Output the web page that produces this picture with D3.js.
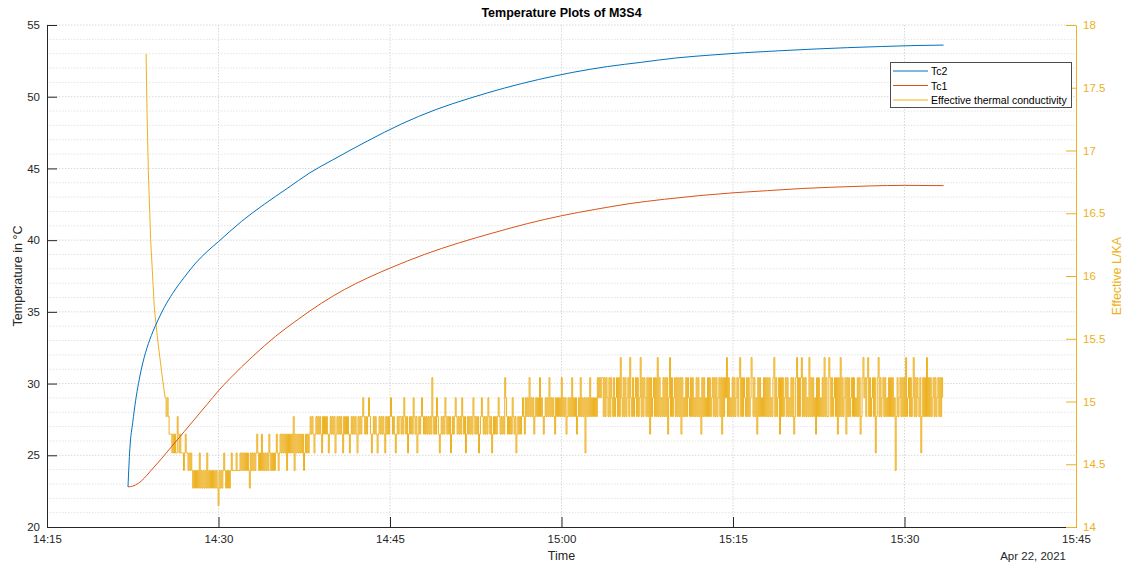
<!DOCTYPE html>
<html>
<head>
<meta charset="utf-8">
<script src="https://cdn.jsdelivr.net/npm/d3@7"></script>
<style>
body { margin: 0; background: #fff; }
svg { font-family: "Liberation Sans", Arial, sans-serif; }
</style>
</head>
<body>
<div id="chart"></div>
<script>
// Tc2 (blue)
const tc2Times = ["14:22:05","14:22:15","14:22:30","14:22:45","14:23:00","14:23:15","14:23:45","14:24:15","14:24:45","14:25:15",
  "14:26:00","14:27:00","14:28:00","14:29:00","14:30:00","14:32:00","14:34:00","14:36:00","14:38:00","14:40:00",
  "14:43:00","14:46:00","14:49:00","14:52:00","14:55:00","14:58:00","15:01:00","15:04:00","15:07:00","15:10:00",
  "15:13:00","15:16:00","15:19:00","15:22:00","15:25:00","15:28:00","15:31:00","15:33:25"];
const tc2Values = [22.8,25.5,27.3,28.8,30.0,31.0,32.5,33.6,34.5,35.3,
  36.3,37.4,38.4,39.2,39.9,41.3,42.5,43.6,44.7,45.6,
  46.9,48.1,49.1,49.9,50.6,51.2,51.7,52.1,52.4,52.7,
  52.9,53.07,53.2,53.32,53.42,53.5,53.57,53.6];

// Tc1 (orange)
const tc1Times = ["14:22:05","14:22:30","14:23:00","14:23:30","14:24:00","14:25:00","14:26:00","14:27:00","14:28:00","14:29:00",
  "14:30:00","14:31:00","14:33:00","14:35:00","14:37:00","14:39:00","14:41:00","14:43:00","14:45:00","14:48:00",
  "14:51:00","14:54:00","14:57:00","15:00:00","15:03:00","15:06:00","15:09:00","15:12:00","15:15:00","15:18:00",
  "15:21:00","15:24:00","15:27:00","15:30:00","15:33:25"];
const tc1Values = [22.8,22.85,23.05,23.4,23.85,24.75,25.7,26.65,27.6,28.55,
  29.5,30.35,31.9,33.3,34.5,35.6,36.55,37.35,38.05,39.0,
  39.8,40.5,41.15,41.7,42.15,42.55,42.85,43.1,43.3,43.45,
  43.6,43.7,43.78,43.82,43.8];

// Effective L/KA (yellow): initial drop, then quantised readings
const kDropTimes = ["14:23:40","14:23:45","14:23:52","14:24:04","14:24:23","14:24:41","14:25:02"];
const kDropValues = [17.77,17.3,16.82,16.29,15.75,15.49,15.23];
const kLevels = [14.17,14.31,14.45,14.59,14.74,14.88,15.03,15.19,15.35];
const kSegStarts = ["14:25:20","14:25:46","14:27:15","14:31:17","14:31:53","14:35:23","14:38:01","14:45:53","14:56:50","15:03:08","15:03:39","15:33:25"];
const kSegCodes = [
  "65654",
  "4434343354343332343",
  "3232321212121312121213121212121210212123212121232",
  "2223222",
  "3232323232132323234323242323232432323234323",
  "43434342434343524343434342343434",
  "5454345454543545454345454534545454354545434545454354545654545654345454345454543545456545434545",
  "54546545345454654534545654545454547545465434545465454534545654545465453454545465454534565454546545345454565454547654545465453454545654",
  "6565756564565657565456565756565465656575656456565756564565756563656575656565",
  "767677",
  "5757657576575675758657575675865756757568575765757475675758575657575746857567575757475657576575756575756475756575756757575675747576857565757567578575765757568757564757565757575756578575674757567575657574578575785757565857575647575657585755875756757475857567475756757565757457867578575675735785756757565757575625756757575856757568575765735757585757567575675757" + "6"
];

const leftTicks = [20,25,30,35,40,45,50,55];
const rightTicks = [14,14.5,15,15.5,16,16.5,17,17.5,18];
const timeTicks = ["14:15:00","14:30:00","14:45:00","15:00:00","15:15:00","15:30:00","15:45:00"];

const W = 1128, H = 567;
const pL = 47, pR = 1076, pT = 25, pB = 527;
const parse = d3.timeParse("%H:%M:%S");
const blue = "#0072BD", orange = "#D95319", yellow = "#EDB120", ink = "#262626";

const svg = d3.select("#chart").append("svg").attr("width", W).attr("height", H);

const x = d3.scaleTime().domain([parse("14:15:00"), parse("15:45:00")]).range([pL, pR]);
const yL = d3.scaleLinear().domain([20, 55]).range([pB, pT]);
const yR = d3.scaleLinear().domain([14, 18]).range([pB, pT]);

// grid
const minor = d3.range(20, 56, 1).filter(v => v % 5 !== 0);
svg.append("g").selectAll("line").data(minor).enter().append("line")
  .attr("x1", pL).attr("x2", pR).attr("y1", d => yL(d)).attr("y2", d => yL(d))
  .attr("stroke", "#e4e4e4").attr("stroke-dasharray", "1.5,1.5");
svg.append("g").selectAll("line").data(leftTicks.slice(1)).enter().append("line")
  .attr("x1", pL).attr("x2", pR).attr("y1", d => yL(d)).attr("y2", d => yL(d))
  .attr("stroke", "#d8d8d8").attr("stroke-dasharray", "1.5,1.5");
svg.append("g").selectAll("line").data(timeTicks.slice(1, -1).map(parse)).enter().append("line")
  .attr("x1", d => x(d)).attr("x2", d => x(d)).attr("y1", pT).attr("y2", pB)
  .attr("stroke", "#d8d8d8").attr("stroke-dasharray", "1.5,1.5");

// yellow series
const kDrop = kDropTimes.map((t, i) => ({t: parse(t), v: kDropValues[i]}));
const kBand = [];
kSegCodes.forEach((codes, i) => {
  const t0 = +parse(kSegStarts[i]), t1 = +parse(kSegStarts[i + 1]);
  for (let j = 0; j < codes.length; j++) {
    kBand.push({t: new Date(t0 + (t1 - t0) * j / codes.length), v: kLevels[+codes[j]]});
  }
});
kDrop.push(kBand[0]);

const lineR = d3.line().x(d => x(d.t)).y(d => yR(d.v));
svg.append("path").datum(kDrop).attr("d", lineR)
  .attr("fill", "none").attr("stroke", yellow).attr("stroke-width", 1);
svg.append("path").datum(kBand).attr("d", lineR.curve(d3.curveStepAfter))
  .attr("fill", "none").attr("stroke", yellow).attr("stroke-width", 1);

const lineL = d3.line().x(d => x(d.t)).y(d => yL(d.v)).curve(d3.curveMonotoneX);
const tc1 = tc1Times.map((t, i) => ({t: parse(t), v: tc1Values[i]}));
const tc2 = tc2Times.map((t, i) => ({t: parse(t), v: tc2Values[i]}));
svg.append("path").datum(tc1).attr("d", lineL).attr("fill", "none").attr("stroke", orange).attr("stroke-width", 1);
svg.append("path").datum(tc2).attr("d", lineL).attr("fill", "none").attr("stroke", blue).attr("stroke-width", 1);

// axes
const gL = svg.append("g").attr("transform", `translate(${pL},0)`)
  .call(d3.axisLeft(yL).tickValues(leftTicks).tickSizeInner(-10).tickSizeOuter(0).tickPadding(7));
gL.selectAll("path, line").attr("stroke", ink);
gL.selectAll("text").attr("fill", ink).style("font-size", "11.5px");

const gB = svg.append("g").attr("transform", `translate(0,${pB})`)
  .call(d3.axisBottom(x).tickValues(timeTicks.map(parse)).tickFormat(d3.timeFormat("%H:%M"))
    .tickSizeInner(-10).tickSizeOuter(0).tickPadding(8));
gB.selectAll("path, line").attr("stroke", ink);
gB.selectAll("text").attr("fill", ink).style("font-size", "11.5px");

const gR = svg.append("g").attr("transform", `translate(${pR},0)`)
  .call(d3.axisRight(yR).tickValues(rightTicks).tickFormat(d => String(d))
    .tickSizeInner(-10).tickSizeOuter(0).tickPadding(7));
gR.selectAll("path, line").attr("stroke", yellow);
gR.selectAll("text").attr("fill", yellow).style("font-size", "11.5px");
svg.selectAll(".domain").attr("fill", "none");

// labels
svg.append("text").attr("x", (pL + pR) / 2).attr("y", 17).attr("text-anchor", "middle")
  .style("font-size", "12.5px").style("font-weight", "bold").attr("fill", "#000").text("Temperature Plots of M3S4");
svg.append("text").attr("x", (pL + pR) / 2).attr("y", 560).attr("text-anchor", "middle")
  .style("font-size", "12.5px").attr("fill", ink).text("Time");
svg.append("text").attr("x", 1066).attr("y", 560).attr("text-anchor", "end")
  .style("font-size", "11.5px").attr("fill", ink).text("Apr 22, 2021");
svg.append("text").attr("transform", `translate(22,${(pT + pB) / 2}) rotate(-90)`).attr("text-anchor", "middle")
  .style("font-size", "12.5px").attr("fill", ink).text("Temperature in °C");
svg.append("text").attr("transform", `translate(1121,${(pT + pB) / 2}) rotate(-90)`).attr("text-anchor", "middle")
  .style("font-size", "12.5px").attr("fill", yellow).text("Effective L/KA");

// legend
const legend = svg.append("g");
legend.append("rect").attr("x", 890.5).attr("y", 62.5).attr("width", 181).attr("height", 45)
  .attr("fill", "#fff").attr("stroke", "#4d4d4d").attr("stroke-width", 1);
const legNames = ["Tc2", "Tc1", "Effective thermal conductivity"];
const legColors = [blue, orange, yellow];
legNames.forEach((n, i) => {
  const yy = 71 + i * 14.5;
  legend.append("line").attr("x1", 893).attr("x2", 928).attr("y1", yy).attr("y2", yy)
    .attr("stroke", legColors[i]).attr("stroke-width", 1);
  legend.append("text").attr("x", 931).attr("y", yy + 4).style("font-size", "10.5px").attr("fill", "#000").text(n);
});
</script>
</body>
</html>
